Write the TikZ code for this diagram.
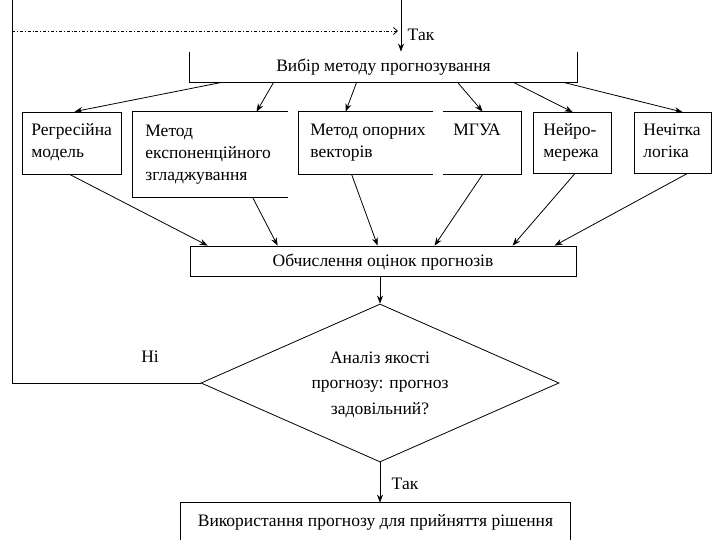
\documentclass[tikz,border=0pt]{standalone}
\usepackage{fontspec}
\setmainfont{Liberation Serif}
\usetikzlibrary{arrows.meta,shapes.geometric}
\begin{document}
\begin{tikzpicture}[x=1pt,y=-1pt,line width=0.8pt,
  arr/.style={-{Stealth[length=8pt,width=6pt]}},
  area/.style={rectangle,inner sep=0pt},
  txt/.style={font=\fontsize{17.5}{22}\selectfont,inner sep=0pt,align=left,anchor=base west},
  ctxt/.style={font=\fontsize{17.5}{23.5}\selectfont,inner sep=0pt,align=center,anchor=base},
  dtxt/.style={font=\fontsize{17.5}{25.5}\selectfont,inner sep=0pt,align=center,anchor=base}]
\useasboundingbox (0,0) rectangle (720,540);
% boxes (empty shapes; outlines drawn below)
\node[area,minimum width=387pt,minimum height=30pt] (top) at (383.5,67) {};
\node[ctxt] (toptext) at (383.5,72) {Вибір методу прогнозування};
\draw (top.north west) -- (top.south west) -- (top.south east) -- (top.north east);

\node[area,draw,minimum width=99pt,minimum height=62pt] (b1) at (71.5,143) {};
\node[txt] (t1) at (31,158) {Регресійна\\модель};

\node[area,minimum width=155pt,minimum height=85pt] (b2) at (210.5,154.5) {};
\draw (b2.north east) -- (b2.north west) -- (b2.south west) -- (b2.south east);
\node[txt] (t2) at (145,181) {Метод\\експоненційного\\згладжування};

\node[area,minimum width=134pt,minimum height=62pt] (b3) at (366,143) {};
\draw (b3.north east) -- (b3.north west) -- (b3.south west) -- (b3.south east);
\node[txt] (t3) at (310,158) {Метод опорних\\векторів};

\node[area,minimum width=78pt,minimum height=62pt] (b4) at (482,143) {};
\draw (b4.north west) -- (b4.north east) -- (b4.south east) -- (b4.south west);
\node[txt] (t4) at (453,136) {МГУА};

\node[area,draw,minimum width=78pt,minimum height=61pt] (b5) at (572,143) {};
\node[txt] (t5) at (543,158) {Нейро-\\мережа};

\node[area,draw,minimum width=77pt,minimum height=61pt] (b6) at (672.5,143) {};
\node[txt] (t6) at (643,158) {Нечітка\\логіка};

\node[area,draw,minimum width=386pt,minimum height=30pt] (calc) at (383,261) {};
\node[ctxt] (calctext) at (383,266) {Обчислення оцінок прогнозів};

\node[diamond,draw,minimum width=358pt,minimum height=158pt,inner sep=0pt,aspect=2.27] (dia) at (380,383) {};
\node[dtxt] (diatext) at (380,414) {Аналіз якості\\прогнозу: прогноз\\задовільний?};

\node[area,minimum width=389pt,minimum height=44pt] (fin) at (375.5,525) {};
\draw (fin.south west) -- (fin.north west) -- (fin.north east) -- (fin.south east);
\node[ctxt] (fintext) at (375.5,526) {Використання прогнозу для прийняття рішення};

% labels
\node[ctxt] (tak1) at (421,41) {Так};
\node[ctxt] (ni) at (150,362) {Ні};
\node[ctxt] (tak2) at (405,489) {Так};

% top connectors
\coordinate (in) at (401,0);
\draw[arr] (in) -- (in |- top.north);
\coordinate (loopb) at (12,383);
\coordinate (loopt) at (12,0);
\coordinate (loopd) at (12,31);
\coordinate (dd) at (398,31);
\draw (dia.west) -- (loopb) -- (loopt);
\draw[dash dot,-{Straight Barb[length=4pt,width=7pt]}] (loopd) -- (dd);

% fan out
\draw[arr] ([xshift=32pt]top.south west) -- ([xshift=53pt]b1.north west);
\draw[arr] ([xshift=84pt]top.south west) -- ([xshift=124pt]b2.north west);
\draw[arr] ([xshift=167pt]top.south west) -- ([xshift=47pt]b3.north west);
\draw[arr] ([xshift=268pt]top.south west) -- ([xshift=40pt]b4.north west);
\draw[arr] ([xshift=324pt]top.south west) -- ([xshift=40pt]b5.north west);
\draw[arr] ([xshift=374pt]top.south west) -- ([xshift=49pt]b6.north west);

% fan in
\draw[arr] ([xshift=48pt]b1.south west) -- ([xshift=18pt]calc.north west);
\draw[arr] ([xshift=120pt]b2.south west) -- ([xshift=88pt]calc.north west);
\draw[arr] ([xshift=53pt]b3.south west) -- ([xshift=188pt]calc.north west);
\draw[arr] ([xshift=40pt]b4.south west) -- ([xshift=245pt]calc.north west);
\draw[arr] ([xshift=42pt]b5.south west) -- ([xshift=323pt]calc.north west);
\draw[arr] ([xshift=53pt]b6.south west) -- ([xshift=365pt]calc.north west);

% down
\draw[arr] (calc.south -| dia.north) -- (dia.north);
\draw[arr] (dia.south) -- (dia.south |- fin.north);
\end{tikzpicture}
\end{document}
